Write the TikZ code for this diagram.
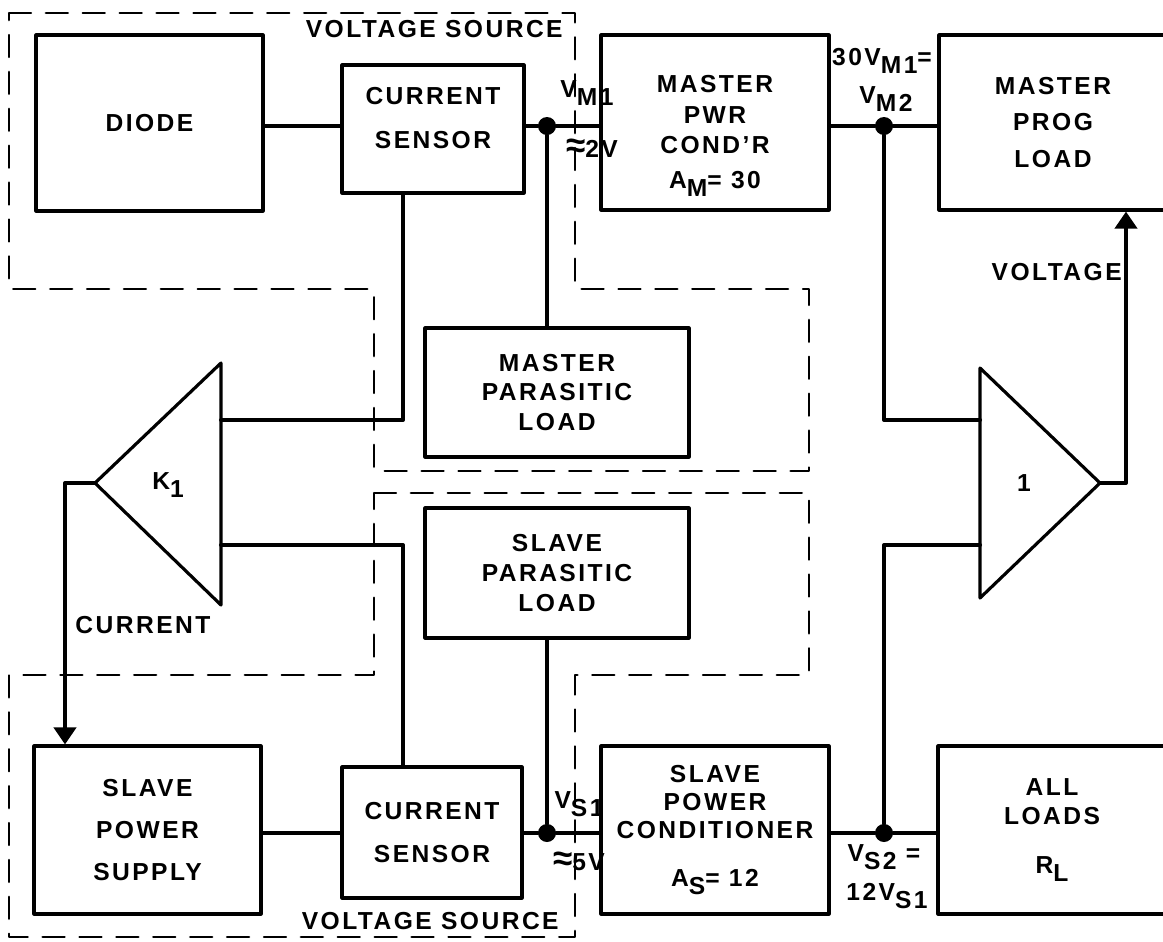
\documentclass[tikz,border=0pt]{standalone}
\usepackage{fontspec}
\setmainfont{Liberation Sans}[LetterSpace=10]
\usetikzlibrary{arrows.meta, positioning}
\definecolor{ink}{HTML}{000000}
\tikzset{el/.style={line cap=round, line join=round},
  blk/.style={draw=ink, line width=1.8pt, inner sep=0pt, align=center, font=\bfseries\fontsize{14}{16}\selectfont},
  tri/.style={draw=ink, line width=1.8pt},
  wire/.style={ink, line width=2.3pt},
  fence/.style={ink, line width=1.4pt, dash pattern=on 12.5pt off 8.5pt},
  dot/.style={circle, fill=ink, inner sep=0pt, minimum size=0.36cm},
  lbl/.style={inner sep=0pt, font=\bfseries\fontsize{14}{16}\selectfont}}
\newcommand\lowr[1]{\raisebox{-0.6ex}{#1}}
\newcommand\apx{{\fontsize{20}{20}\selectfont ≈}}

\begin{document}
\begin{tikzpicture}[el, x=0.02cm, y=-0.02cm]
  \useasboundingbox (0,0) rectangle (1163,941);
  \clip (0,0) rectangle (1163,941);
  \draw[fence] (9,13)--(575,13)--(575,289)--(809,289)--(809,471)--(374,471)--(374,289)--(9,289)--cycle;
  \draw[fence] (374,493)--(809,493)--(809,675)--(575,675)--(575,937)--(9,937)--(9,675)--(374,675)--cycle;

  \node[blk, minimum width=4.54cm, minimum height=3.52cm] (diode) at (149.5,123) {DIODE};
  \node[blk, minimum width=3.64cm, minimum height=2.56cm] (cs1) at (433,129) {CURRENT\\[9pt]SENSOR\rule[-13pt]{0pt}{13pt}};
  \node[blk, minimum width=4.56cm, minimum height=3.5cm] (mpc) at (715,122.5) {\rule{0pt}{25pt}MASTER\\[2pt]PWR\\[1pt]COND'R\\[4pt]A\lowr{M}= 30};
  \node[blk, minimum width=4.56cm, minimum height=3.5cm] (mpl) at (1053,122.5) {MASTER\\[5pt]PROG\\[5pt]LOAD};
  \node[blk, minimum width=5.28cm, minimum height=2.58cm] (mpar) at (557,392.5) {MASTER\\[1pt]PARASITIC\\[1pt]LOAD};
  \node[blk, minimum width=5.28cm, minimum height=2.6cm] (spar) at (557,573) {SLAVE\\[1pt]PARASITIC\\[1pt]LOAD};
  \node[blk, minimum width=4.54cm, minimum height=3.36cm] (sps) at (147.5,830) {SLAVE\\[8pt]POWER\\[8pt]SUPPLY};
  \node[blk, minimum width=3.6cm, minimum height=2.62cm] (cs2) at (432,832.5) {CURRENT\\[9pt]SENSOR};
  \node[blk, minimum width=4.56cm, minimum height=3.36cm] (spc) at (715,830) {SLAVE\\POWER\\CONDITIONER\\[11pt]A\lowr{S}= 12};
  \node[blk, minimum width=4.56cm, minimum height=3.36cm] (all) at (1052,830) {ALL\\LOADS\\[12pt]R\lowr{L}};

  \draw[tri] (221,363)--(221,605)--(95,483)--cycle;
  \coordinate (k1o) at (95,483);
  \coordinate (k1a) at (221,420);
  \coordinate (k1b) at (221,545);
  \node[lbl] (k1) at (168,485) {K\lowr{1}};
  \draw[tri] (980,368)--(980,598)--(1100,483)--cycle;
  \coordinate (a1o) at (1100,483);
  \coordinate (a1a) at (980,420);
  \coordinate (a1b) at (980,545);
  \node[lbl] (a1) at (1024,483) {1};

  \foreach \nm/\px/\py in {vm1/547/126, vm2/884/126, vs1/547/833, vs2/884/833}
    \node[dot] (\nm) at (\px,\py) {};

  \draw[wire] (diode.east |- vm1) -- (cs1.west |- vm1);
  \draw[wire] (cs1.east |- vm1) -- (vm1) -- (mpc.west |- vm1);
  \draw[wire] (mpc.east |- vm2) -- (vm2) -- (mpl.west |- vm2);
  \draw[wire] (vm1) -- (vm1 |- mpar.north);
  \draw[wire] (spar.south -| vs1) -- (vs1);
  \draw[wire] (sps.east |- vs1) -- (cs2.west |- vs1);
  \draw[wire] (cs2.east |- vs1) -- (vs1) -- (spc.west |- vs1);
  \draw[wire] (spc.east |- vs2) -- (vs2) -- (all.west |- vs2);
  \coordinate (t1) at (403,420);
  \coordinate (t2) at (403,545);
  \draw[wire] (cs1.south -| t1) -- (t1) -- (k1a);
  \draw[wire] (cs2.north -| t2) -- (t2) -- (k1b);
  \draw[wire] (vm2) |- (a1a);
  \draw[wire] (vs2) |- (a1b);
  \coordinate (kc) at (65,483);
  \draw[wire, -{Triangle[length=0.34cm, width=0.44cm]}] (k1o) -- (kc) -- (sps.north -| kc);
  \coordinate (ac) at (1126,483);
  \draw[wire, -{Triangle[length=0.34cm, width=0.44cm]}] (a1o) -- (ac) -- (mpl.south -| ac);

  \node[lbl, anchor=east] (vsrc1) at (563,29) {VOLTAGE SOURCE};
  \node[lbl, anchor=east] (vsrc2) at (559,921) {VOLTAGE SOURCE};
  \node[lbl] (lvm1) at (587,93) {V\lowr{M1}};
  \node[lbl] (lvm1b) at (592,148) {\apx2V};
  \node[lbl] (lvm2a) at (882,61) {30V\lowr{M1}=};
  \node[lbl] (lvm2b) at (886,99) {V\lowr{M2}};
  \node[lbl, anchor=east] (lvolt) at (1122,272) {VOLTAGE};
  \node[lbl] (lcur) at (143,625) {CURRENT};
  \node[lbl] (lvs1) at (579,804) {V\lowr{S1}};
  \node[lbl] (lvs1b) at (579,861) {\apx5V};
  \node[lbl] (lvs2a) at (884,857) {V\lowr{S2} =};
  \node[lbl] (lvs2b) at (887,896) {12V\lowr{S1}};
\end{tikzpicture}
\end{document}
